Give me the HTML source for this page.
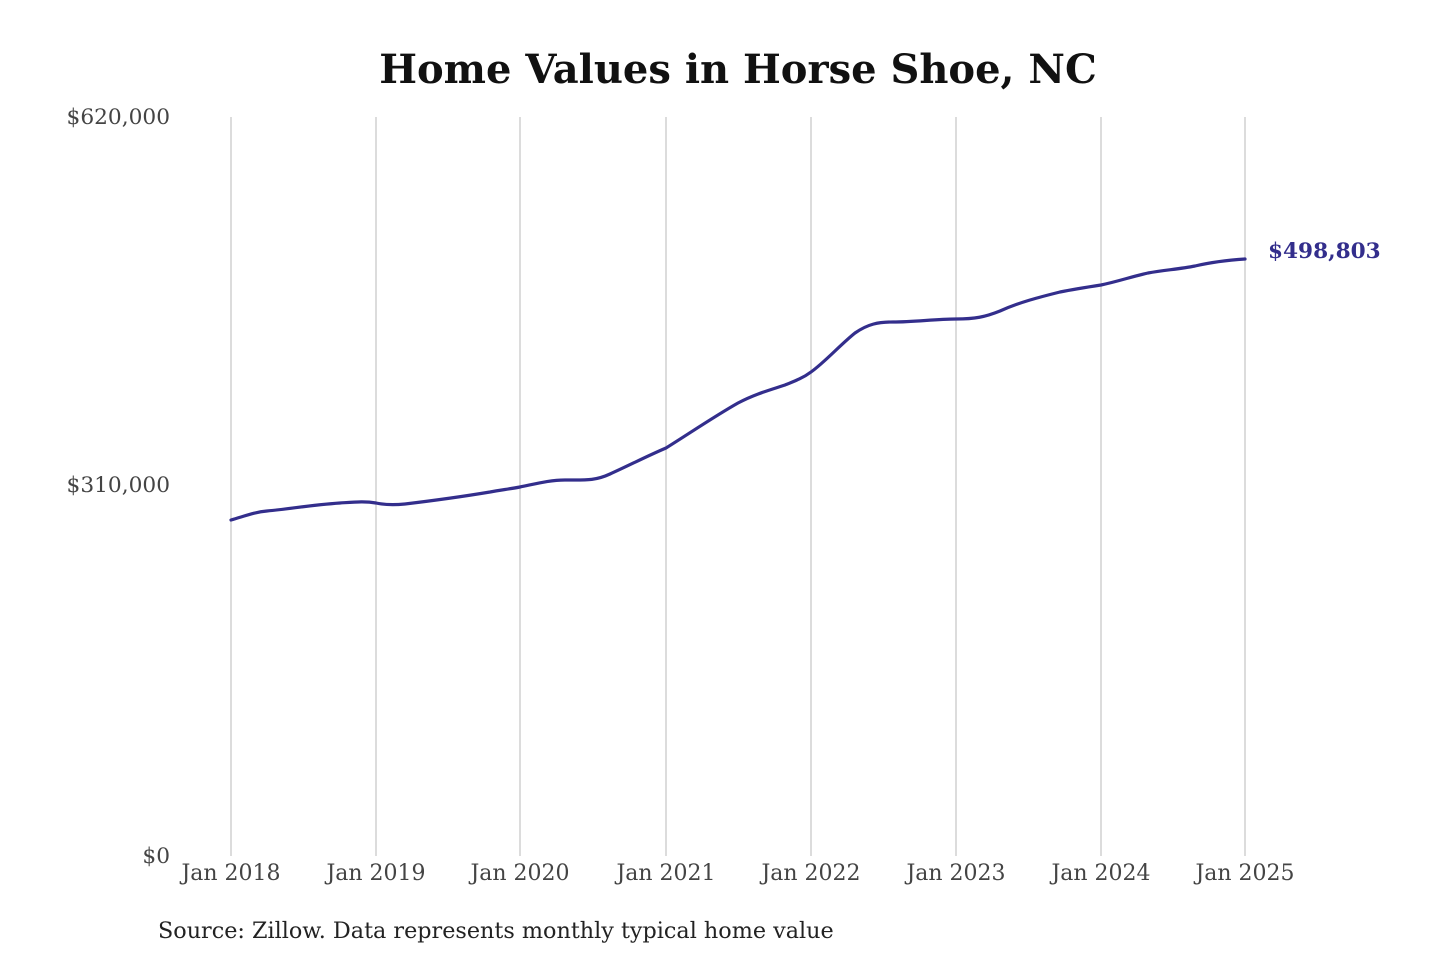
<!DOCTYPE html>
<html><head><meta charset="utf-8"><style>
body{margin:0;background:#fff;width:1440px;height:960px;overflow:hidden}
svg text{font-family:"DejaVu Serif","Liberation Serif",serif}
</style></head><body>
<svg width="1440" height="960" xmlns="http://www.w3.org/2000/svg">
<text x="738" y="83" text-anchor="middle" font-size="40" font-weight="bold" fill="#111">Home Values in Horse Shoe, NC</text>
<g stroke="#c4c4c4" stroke-width="1.2">
<line x1="231" y1="117" x2="231" y2="856"/><line x1="376" y1="117" x2="376" y2="856"/>
<line x1="520" y1="117" x2="520" y2="856"/><line x1="666" y1="117" x2="666" y2="856"/>
<line x1="811" y1="117" x2="811" y2="856"/><line x1="956" y1="117" x2="956" y2="856"/>
<line x1="1101" y1="117" x2="1101" y2="856"/><line x1="1245" y1="117" x2="1245" y2="856"/>
</g>
<g font-size="21.7" fill="#444" text-anchor="end">
<text x="170" y="124">$620,000</text>
<text x="170" y="492">$310,000</text>
<text x="170" y="863">$0</text>
</g>
<g font-size="22" fill="#444" text-anchor="middle">
<text x="231" y="880">Jan 2018</text><text x="376" y="880">Jan 2019</text>
<text x="520" y="880">Jan 2020</text><text x="666" y="880">Jan 2021</text>
<text x="811" y="880">Jan 2022</text><text x="956" y="880">Jan 2023</text>
<text x="1101" y="880">Jan 2024</text><text x="1245" y="880">Jan 2025</text>
</g>
<path fill="none" stroke="#332e8c" stroke-width="3.2" stroke-linejoin="round" stroke-linecap="round"
d="M231,520 C245,516 255,512 267,511 C290,509 310,505 340,503 C355,502 365,501 376,503 C385,505 395,505 405,504 C430,501 460,497 490,492 C500,490 510,489 520,487 C535,484 550,480 565,480 C585,480 595,481 610,474 C630,465 645,457 666,448 C690,433 715,416 738,403 C755,394 770,390 785,385 C795,381 803,378 811,372 C825,362 840,345 855,333 C868,324 878,322 893,322 C915,322 935,319 956,319 C975,319 985,317 1000,311 C1020,302 1040,297 1060,292 C1075,289 1088,287 1101,285 C1120,281 1130,277 1148,273 C1165,270 1180,269 1195,266 C1212,262 1230,260 1245,259"/>
<text x="1268" y="258" font-size="21.6" font-weight="bold" fill="#332e8c">$498,803</text>
<text x="158" y="938" font-size="22.3" fill="#222">Source: Zillow. Data represents monthly typical home value</text>
</svg>
</body></html>
